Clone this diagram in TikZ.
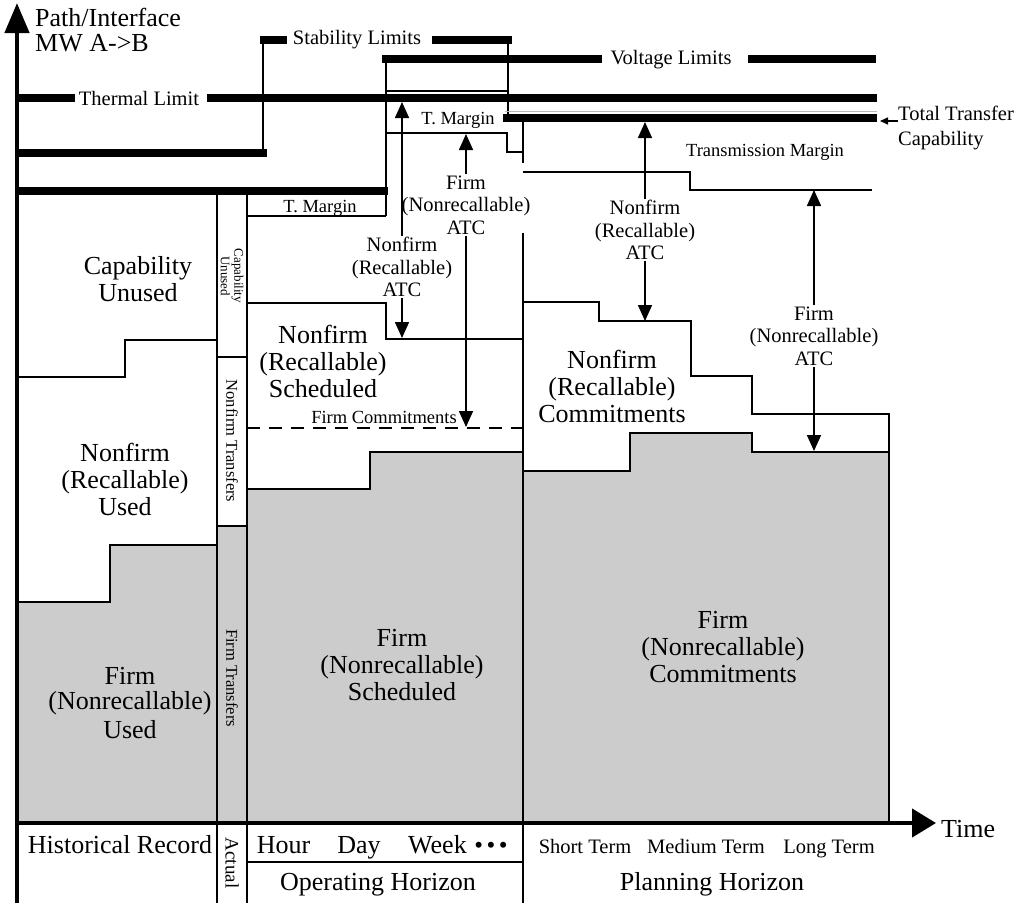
\documentclass[tikz,border=0pt]{standalone}
\usepackage{fontspec}
\setmainfont{Liberation Serif}
\usetikzlibrary{arrows.meta}
\definecolor{fillgray}{gray}{0.8}
\definecolor{shadowgray}{gray}{0.72}
\begin{document}
\begin{tikzpicture}[x=1pt,y=-1pt,
  ln/.style={line width=1.6pt},
  lim/.style={line width=7.5pt},
  axisline/.style={line width=4.5pt},
  arr/.style={line width=1.6pt,-{Triangle[width=14pt,length=16pt]}},
  big/.style={font=\fontsize{26}{27}\selectfont,align=center,inner sep=0pt},
  atc/.style={font=\fontsize{20.5}{22.5}\selectfont,align=center,inner sep=1pt},
  lab/.style={font=\fontsize{20.5}{25}\selectfont,inner sep=0pt},
  smalllab/.style={font=\fontsize{18.5}{20}\selectfont,inner sep=0pt},
  vert/.style={rotate=-90,inner sep=0pt,align=center},
]
\useasboundingbox (0,0) rectangle (1026,903);

% ---------- gray regions ----------
\fill[fillgray] (17,602) -- (110,602) -- (110,545) -- (217,545) -- (217,823) -- (17,823) -- cycle;
\fill[fillgray] (217,526) rectangle (247,823);
\fill[fillgray] (247,489) -- (370,489) -- (370,452) -- (523,452) -- (523,823) -- (247,823) -- cycle;
\fill[fillgray] (523,471) -- (630,471) -- (630,433) -- (752,433) -- (752,452) -- (889,452) -- (889,823) -- (523,823) -- cycle;

% ---------- thin structure lines ----------
\draw[ln] (17,602) -- (110,602) -- (110,545) -- (217,545);
\draw[ln] (17,377) -- (125,377) -- (125,340) -- (217,340);
\draw[ln] (217,191) -- (217,903);
\draw[ln] (247,191) -- (247,903);
\draw[ln] (217,357) -- (247,357);
\draw[ln] (217,526) -- (247,526);
\draw[ln] (247,216) -- (386,216);
\draw[ln] (386,59) -- (386,216);
\draw[ln] (386,91) -- (508,91);
\draw[ln] (508,40) -- (508,118);
\draw[ln] (263,40) -- (263,153);
\draw[ln] (247,303) -- (386,303) -- (386,339) -- (523,339);
\draw[ln] (386,133) -- (507,133) -- (507,152) -- (523,152);
\draw[ln] (523,118) -- (523,163);
\draw[ln] (523,233) -- (523,903);
\draw[ln] (523,172) -- (690,172) -- (690,190) -- (872,190);
\draw[ln] (523,302) -- (599,302) -- (599,321) -- (691,321) -- (691,376) -- (752,376) -- (752,414) -- (889,414) -- (889,823);
\draw[ln] (247,489) -- (370,489) -- (370,452) -- (523,452);
\draw[ln] (523,471) -- (630,471) -- (630,433) -- (752,433) -- (752,452) -- (889,452);
\draw[line width=1.2pt,dash pattern=on 13pt off 9pt] (247,428) -- (523,428);
\draw[ln] (247,862) -- (523,862);

% ---------- thick limit lines ----------
\draw[lim] (260,40) -- (287,40);
\draw[lim] (432,40) -- (512,40);
\draw[lim] (15,153) -- (267,153);
\draw[lim] (15,191) -- (388,191);
\draw[lim] (382,59) -- (602,59);
\draw[lim] (748,59) -- (876,59);
\draw[lim] (17,98) -- (75,98);
\draw[lim] (207,98) -- (877,98);
\draw[line width=1.5pt,shadowgray] (505,111.5) -- (877,111.5);
\draw[lim] (503,118) -- (877,118);

% ---------- axes ----------
\draw[axisline,-{Triangle[width=24pt,length=30pt]}] (17,903) -- (17,3);
\draw[axisline,-{Triangle[width=28pt,length=24pt]}] (17,823) -- (936,823);

% ---------- limit labels ----------
\node[lab,anchor=west,align=left,font=\fontsize{26}{25}\selectfont] (axislab) at (35,30) {Path/Interface\\MW A->B};
\node[lab] (stab) at (357,40) {Stability Limits};
\node[lab] (therm) at (139,98) {Thermal Limit};
\node[lab] (volt) at (671,60) {Voltage Limits};
\node[smalllab] (tmtop) at (458,120) {T. Margin};
\node[smalllab] (tmlow) at (320,208) {T. Margin};
\node[smalllab] (trm) at (765,152) {Transmission Margin};
\node[lab,anchor=west,align=left] (ttc) at (898,128) {Total Transfer\\Capability};
\coordinate (ttcpt) at (880,121);
\draw[line width=1.4pt,-{Triangle[width=7pt,length=8pt]}] (ttc.west |- ttcpt) -- (ttcpt);
\node[smalllab] (fc) at (384,417) {Firm Commitments};

% ---------- region labels ----------
\node[big] (capu) at (138,279) {Capability\\Unused};
\node[big] (nfused) at (125,479) {Nonfirm\\(Recallable)\\Used};
\node[big,font=\fontsize{26}{25}\selectfont] (fused) at (130,703) {Firm\\(Nonrecallable)\\[4pt]Used};
\node[big] (nfsch) at (323,361) {Nonfirm\\(Recallable)\\Scheduled};
\node[big] (fsch) at (402,665) {Firm\\(Nonrecallable)\\Scheduled};
\node[big] (nfcom) at (612,386) {Nonfirm\\(Recallable)\\Commitments};
\node[big] (fcom) at (723,647) {Firm\\(Nonrecallable)\\Commitments};

% ---------- vertical labels ----------
\node[vert,font=\fontsize{13}{13.5}\selectfont] (capuv) at (232,276) {Capability\\Unused};
\node[vert,font=\fontsize{16.5}{18}\selectfont] (nft) at (232,441) {Nonfirm Transfers};
\node[vert,font=\fontsize{16.5}{18}\selectfont] (ft) at (232,678) {Firm Transfers};
\node[vert,font=\fontsize{19}{19}\selectfont] (act) at (232,863) {Actual};

% ---------- ATC labels and arrows ----------
\node[atc] (onf) at (402,267) {Nonfirm\\(Recallable)\\ATC};
\node[atc] (of) at (466,205) {Firm\\(Nonrecallable)\\ATC};
\node[atc] (pnf) at (645,230) {Nonfirm\\(Recallable)\\ATC};
\node[atc] (pf) at (814,336) {Firm\\(Nonrecallable)\\ATC};
\coordinate (onfu) at (402,102);
\coordinate (onfd) at (402,338);
\coordinate (ofu) at (466,134);
\coordinate (ofd) at (466,427);
\coordinate (pnfu) at (645,122);
\coordinate (pnfd) at (645,321);
\coordinate (pfu) at (814,190);
\coordinate (pfd) at (814,451);
\draw[arr] (onf.north) -- (onfu);
\draw[arr] (onf.south) -- (onfd);
\draw[arr] (of.north) -- (ofu);
\draw[arr] (of.south) -- (ofd);
\draw[arr] (pnf.north) -- (pnfu);
\draw[arr] (pnf.south) -- (pnfd);
\draw[arr] (pf.north) -- (pfu);
\draw[arr] (pf.south) -- (pfd);

% ---------- time axis labels ----------
\node[big,anchor=base west] (time) at (941,837) {Time};
\node[big,anchor=base] (hist) at (120,853) {Historical Record};
\node[big,anchor=base] (hour) at (283.5,853) {Hour};
\node[big,anchor=base] (day) at (359,853) {Day};
\node[big,anchor=base] (week) at (437.5,853) {Week};
\node[big,anchor=base,font=\fontsize{25}{25}\selectfont] (dots) at (491,853) {•\hspace{3.5pt}•\hspace{3.5pt}•};
\node[big,anchor=base] (oph) at (378,890) {Operating Horizon};
\node[lab,anchor=base] (st) at (585,853) {Short Term};
\node[lab,anchor=base] (mt) at (706,853) {Medium Term};
\node[lab,anchor=base] (lt) at (829,853) {Long Term};
\node[big,anchor=base] (plh) at (712,890) {Planning Horizon};
\end{tikzpicture}
\end{document}
